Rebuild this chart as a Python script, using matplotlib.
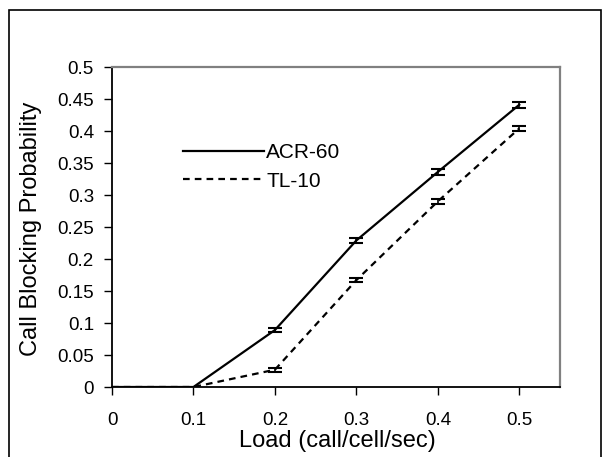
import matplotlib
matplotlib.use("Agg")
import matplotlib.pyplot as plt
from matplotlib.patches import Rectangle

plt.rcParams["font.family"] = ["Liberation Sans", "DejaVu Sans"]

load = [0.0, 0.1, 0.2, 0.3, 0.4, 0.5]
acr60 = [0.0, 0.0, 0.089, 0.229, 0.336, 0.441]
acr60_err = [0, 0, 0.003, 0.004, 0.004, 0.0045]
tl10 = [0.0, 0.0, 0.027, 0.167, 0.290, 0.404]
tl10_err = [0, 0, 0.003, 0.003, 0.004, 0.0045]
xticks = [0, 0.1, 0.2, 0.3, 0.4, 0.5]
yticks = [0, 0.05, 0.1, 0.15, 0.2, 0.25, 0.3, 0.35, 0.4, 0.45, 0.5]

W, H = 607, 457
fig = plt.figure(figsize=(W / 100, H / 100), dpi=100)
ax = fig.add_axes([112 / W, 1 - 387 / H, (560 - 112) / W, (387 - 67) / H])

# outer chart border (bottom is cropped off in the original)
fig.patches.append(Rectangle((9 / W, -0.01), (601 - 9) / W, (H - 10) / H + 0.01,
                             transform=fig.transFigure, fill=False,
                             edgecolor="black", linewidth=1.2))

ax.plot(load, acr60, color="black", linewidth=1.6, label="ACR-60")
ax.plot(load, tl10, color="black", linewidth=1.6, linestyle=(0, (3, 2.3)), label="TL-10")
ax.errorbar(load[2:], acr60[2:], yerr=acr60_err[2:], fmt="none", ecolor="black",
            elinewidth=1.2, capsize=5, capthick=1.5)
ax.errorbar(load[2:], tl10[2:], yerr=tl10_err[2:], fmt="none", ecolor="black",
            elinewidth=1.2, capsize=5, capthick=1.5)

ax.set_xlim(0, 0.55)
ax.set_ylim(0, 0.5)
ax.set_xticks(xticks)
ax.set_xticklabels([f"{v:g}" for v in xticks])
ax.set_yticks(yticks)
ax.set_yticklabels([f"{v:g}" for v in yticks])
ax.tick_params(direction="out", length=6, width=1, labelsize=13.5, pad=7)
ax.tick_params(axis="x", pad=12)

for side in ("top", "right"):
    ax.spines[side].set_color("#808080")
    ax.spines[side].set_linewidth(1.6)
for side in ("left", "bottom"):
    ax.spines[side].set_color("black")
    ax.spines[side].set_linewidth(1.3)

fig.text(337 / W, 10 / H, "Load (call/cell/sec)", fontsize=17,
         ha="center", va="baseline")
fig.text(31 / W, 1 - 229 / H, "Call Blocking Probability", fontsize=17,
         rotation=90, ha="center", va="center")

ax.legend(loc="center left", bbox_to_anchor=(183 / W, 1 - 167 / H),
          bbox_transform=fig.transFigure, frameon=False,
          fontsize=15, handlelength=3.9, handletextpad=0.1, labelspacing=0.45,
          borderaxespad=0, borderpad=0)

fig.savefig("out.png", dpi=100)
